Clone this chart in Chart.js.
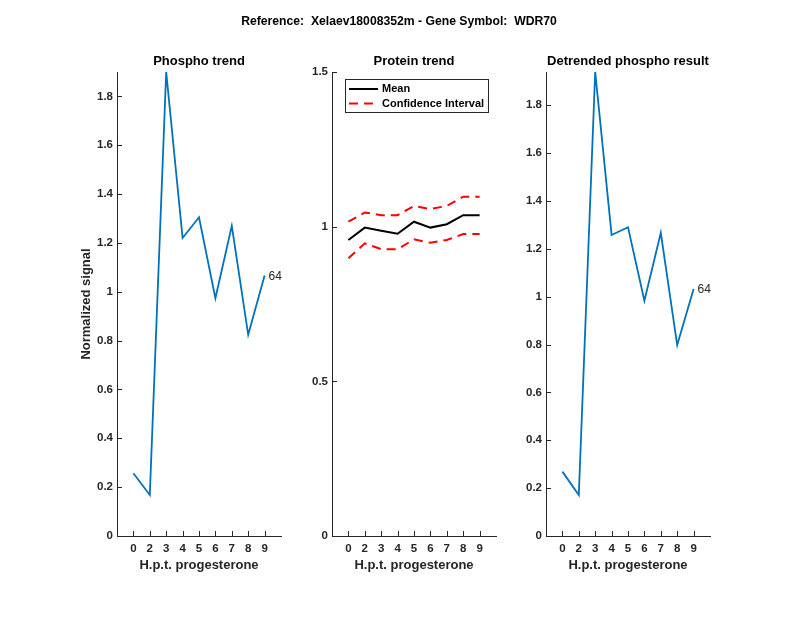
<!DOCTYPE html>
<html lang="en">
<head>
<meta charset="UTF-8">
<title>WDR70</title>
<script src="https://cdn.jsdelivr.net/npm/chart.js@4.4.0/dist/chart.umd.min.js"></script>
<style>
  body { margin: 0; background: #fff; }
  #wrap { position: relative; width: 800px; height: 618px; }
  canvas { position: absolute; left: 0; top: 0; }
</style>
</head>
<body>
<div id="wrap">
  <canvas id="c1" width="800" height="618"></canvas>
  <canvas id="c2" width="800" height="618"></canvas>
  <canvas id="c3" width="800" height="618"></canvas>
</div>
<script>
// data
const hptLabels = ['0', '2', '3', '4', '5', '6', '7', '8', '9'];
const phosphoTrend = [0.257, 0.168, 1.90, 1.22, 1.305, 0.974, 1.27, 0.824, 1.067];
const proteinMean = [0.957, 0.997, 0.987, 0.977, 1.016, 0.997, 1.008, 1.037, 1.037];
const proteinUpper = [1.016, 1.046, 1.037, 1.037, 1.067, 1.057, 1.067, 1.097, 1.097];
const proteinLower = [0.898, 0.946, 0.927, 0.927, 0.959, 0.948, 0.957, 0.976, 0.976];
const detrended = [0.269, 0.171, 1.939, 1.258, 1.29, 0.983, 1.267, 0.798, 1.032];
const endLabel = '64';
const mainTitle = 'Reference:  Xelaev18008352m - Gene Symbol:  WDR70';

const FONT = "'Liberation Sans', Arial, sans-serif";
const AXIS = '#262626';
const BLUE = '#0072BD';

function pts(arr) {
  return arr.map((v, i) => ({ x: i + 1, y: v }));
}

const decorations = {
  id: 'decorations',
  afterDraw(chart, args, o) {
    const ctx = chart.ctx;
    const a = chart.chartArea;
    const xs = chart.scales.x, ys = chart.scales.y;
    ctx.save();
    ctx.strokeStyle = AXIS;
    ctx.lineWidth = 1;
    ctx.beginPath();
    xs.ticks.forEach(t => {
      const px = Math.round(xs.getPixelForValue(t.value)) + 0.5;
      ctx.moveTo(px, a.bottom);
      ctx.lineTo(px, a.bottom - 5);
    });
    ys.ticks.forEach(t => {
      const py = Math.round(ys.getPixelForValue(t.value)) + 0.5;
      ctx.moveTo(a.left, py);
      ctx.lineTo(a.left + 5, py);
    });
    ctx.stroke();

    ctx.fillStyle = '#000';
    ctx.font = 'bold 13px ' + FONT;
    ctx.textAlign = 'center';
    ctx.textBaseline = 'middle';
    ctx.fillText(o.title, (a.left + a.right) / 2, 61);
    ctx.fillStyle = AXIS;
    ctx.fillText(o.xTitle, (a.left + a.right) / 2, 565);
    if (o.mainTitle) {
      ctx.fillStyle = '#000';
      ctx.font = 'bold 12.2px ' + FONT;
      ctx.fillText(o.mainTitle, 399, 22);
      ctx.font = 'bold 13px ' + FONT;
    }
    if (o.yTitle) {
      ctx.save();
      ctx.fillStyle = AXIS;
      ctx.translate(86, (a.top + a.bottom) / 2);
      ctx.rotate(-Math.PI / 2);
      ctx.fillText(o.yTitle, 0, 0);
      ctx.restore();
    }
    if (o.endLabel) {
      const meta = chart.getDatasetMeta(0);
      const last = meta.data[meta.data.length - 1];
      ctx.fillStyle = AXIS;
      ctx.font = '12px ' + FONT;
      ctx.textAlign = 'left';
      ctx.fillText(o.endLabel, last.x + 4, last.y + 1);
    }
    if (o.legend) {
      const L = o.legend;
      ctx.fillStyle = '#fff';
      ctx.fillRect(L.x, L.y, L.w, L.h);
      ctx.strokeStyle = AXIS;
      ctx.lineWidth = 1;
      ctx.strokeRect(L.x + 0.5, L.y + 0.5, L.w, L.h);
      L.items.forEach((idx, k) => {
        const ds = chart.data.datasets[idx];
        const y = L.y + 10 + k * 14.5;
        ctx.strokeStyle = ds.borderColor;
        ctx.lineWidth = ds.borderWidth;
        ctx.setLineDash(ds.borderDash || []);
        ctx.beginPath();
        ctx.moveTo(L.x + 4, y);
        ctx.lineTo(L.x + 33, y);
        ctx.stroke();
        ctx.setLineDash([]);
        ctx.fillStyle = '#000';
        ctx.font = 'bold 11px ' + FONT;
        ctx.textAlign = 'left';
        ctx.fillText(ds.label, L.x + 37, y);
      });
    }
    ctx.restore();
  }
};

function makePanel(id, datasets, area, yMax, yStep, deco) {
  const yw = 40;
  new Chart(document.getElementById(id), {
    type: 'line',
    data: { datasets: datasets },
    plugins: [decorations],
    options: {
      responsive: false,
      animation: false,
      layout: { padding: { left: area.left - yw, right: 800 - area.right, top: 72, bottom: 0 } },
      elements: { point: { radius: 0 }, line: { tension: 0 } },
      plugins: {
        legend: { display: false },
        title: { display: false },
        tooltip: { enabled: false },
        decorations: deco
      },
      scales: {
        x: {
          type: 'linear',
          min: 0,
          max: 10,
          grid: { display: false, drawTicks: false },
          border: { display: true, color: AXIS, width: 1 },
          afterBuildTicks: s => { s.ticks = hptLabels.map((_, i) => ({ value: i + 1 })); },
          afterFit: s => { s.height = 82; },
          ticks: {
            autoSkip: false,
            padding: 6,
            color: AXIS,
            font: { family: FONT, size: 11.5, weight: 'bold' },
            callback: v => hptLabels[v - 1]
          }
        },
        y: {
          min: 0,
          max: yMax,
          grid: { display: false, drawTicks: false },
          border: { display: true, color: AXIS, width: 1 },
          afterFit: s => { s.width = yw; },
          ticks: {
            stepSize: yStep,
            includeBounds: false,
            padding: 4,
            color: AXIS,
            font: { family: FONT, size: 11.5, weight: 'bold' },
            callback: v => String(Number(v.toFixed(4)))
          }
        }
      }
    }
  });
}

makePanel('c1',
  [{ label: 'Phospho', data: pts(phosphoTrend), borderColor: BLUE, borderWidth: 1.8, fill: false }],
  { left: 117, right: 281 }, Math.max(...phosphoTrend), 0.2,
  { title: 'Phospho trend', xTitle: 'H.p.t. progesterone', yTitle: 'Normalized signal', endLabel: endLabel });

makePanel('c2',
  [
    { label: 'Mean', data: pts(proteinMean), borderColor: '#000', borderWidth: 2, fill: false },
    { label: 'Confidence Interval', data: pts(proteinUpper), borderColor: '#ff0000', borderWidth: 2, borderDash: [9, 6], fill: false },
    { label: 'Lower', data: pts(proteinLower), borderColor: '#ff0000', borderWidth: 2, borderDash: [9, 6], fill: false }
  ],
  { left: 332, right: 496 }, 1.5, 0.5,
  { title: 'Protein trend', xTitle: 'H.p.t. progesterone', mainTitle: mainTitle,
    legend: { x: 345, y: 79, w: 143, h: 33, items: [0, 1] } });

makePanel('c3',
  [{ label: 'Detrended', data: pts(detrended), borderColor: BLUE, borderWidth: 1.8, fill: false }],
  { left: 546, right: 710 }, Math.max(...detrended), 0.2,
  { title: 'Detrended phospho result', xTitle: 'H.p.t. progesterone', endLabel: endLabel });
</script>
</body>
</html>
